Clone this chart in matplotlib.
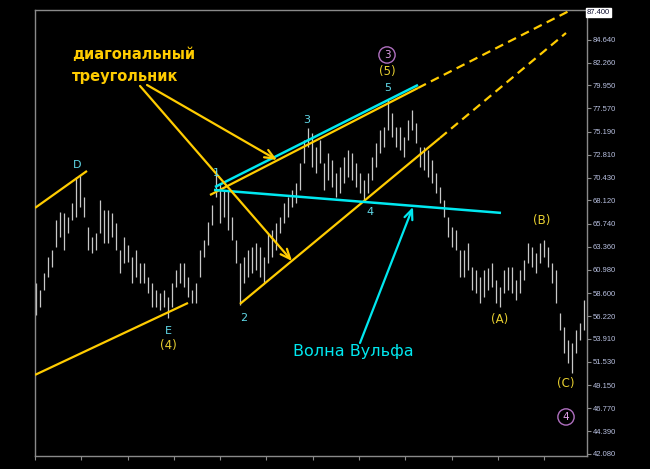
import numpy as np
import matplotlib
matplotlib.use("Agg")
import matplotlib.pyplot as plt
import matplotlib.transforms as mtransforms

# Максимумы и минимумы баров (цена), слева направо
bar_high = [59.65, 58.93, 60.67, 62.32, 63.03, 66.12, 66.94, 66.84, 66.42, 67.86,
            70.53, 70.74, 68.48, 65.40, 64.37, 64.78, 68.17, 67.14, 67.14, 66.84,
            65.81, 63.03, 64.37, 63.55, 62.32, 63.03, 61.70, 61.70, 60.26, 59.65,
            58.93, 58.62, 58.93, 58.21, 59.65, 60.98, 61.70, 61.70, 60.26, 58.93,
            59.65, 63.03, 64.06, 65.91, 67.66, 71.25, 69.92, 69.20, 69.20, 66.42,
            64.06, 61.70, 62.32, 63.03, 63.34, 63.75, 63.34, 62.32, 64.78, 65.09,
            65.81, 66.42, 67.86, 68.48, 69.20, 69.92, 71.97, 74.33, 75.56, 75.05,
            73.61, 74.33, 71.97, 73.00, 72.28, 70.94, 71.56, 72.59, 73.30, 73.00,
            71.97, 70.94, 70.22, 70.94, 72.59, 74.02, 75.36, 75.67, 78.44, 77.10,
            75.67, 75.67, 74.64, 76.39, 77.41, 76.08, 73.61, 73.61, 73.30, 72.28,
            70.94, 69.50, 68.17, 66.42, 65.40, 65.09, 63.03, 63.03, 63.75, 61.29,
            60.98, 60.26, 60.98, 61.19, 61.70, 59.95, 59.24, 60.98, 61.29, 61.29,
            59.95, 60.98, 62.01, 63.75, 63.34, 62.73, 63.75, 64.06, 63.34, 61.70,
            60.98, 56.56, 55.13, 53.79, 53.48, 54.82, 55.54, 57.90]
bar_low = [56.36, 57.18, 58.93, 60.26, 61.29, 63.34, 64.37, 63.03, 64.78, 66.12,
           66.42, 67.45, 66.42, 63.03, 62.73, 63.03, 64.78, 63.75, 63.75, 64.37,
           63.03, 60.67, 61.70, 61.80, 59.65, 60.26, 59.65, 59.65, 58.62, 57.18,
           57.18, 56.87, 57.18, 56.05, 57.18, 59.24, 59.65, 59.24, 58.21, 57.59,
           57.59, 60.26, 62.32, 63.55, 65.60, 68.48, 65.81, 66.42, 65.09, 64.06,
           61.70, 57.39, 59.65, 60.26, 60.67, 60.98, 60.26, 59.65, 61.70, 62.32,
           63.03, 64.78, 65.81, 66.42, 67.45, 67.86, 69.20, 71.97, 73.61, 71.56,
           70.94, 71.97, 69.20, 70.22, 69.50, 68.48, 68.89, 69.92, 70.53, 70.22,
           69.50, 68.89, 68.17, 68.89, 70.22, 71.56, 73.00, 73.61, 75.36, 74.64,
           73.61, 73.30, 72.59, 74.33, 75.36, 74.02, 71.56, 71.25, 70.53, 69.92,
           68.89, 67.86, 66.42, 64.37, 63.34, 63.03, 60.26, 60.26, 60.98, 58.93,
           58.62, 57.59, 58.21, 58.93, 59.24, 57.59, 57.18, 58.62, 58.93, 58.62,
           57.90, 58.62, 59.95, 61.70, 61.29, 60.67, 61.70, 62.32, 61.29, 59.65,
           57.59, 54.81, 52.46, 51.44, 50.40, 52.46, 53.79, 54.82]

# Шкала цен справа (подпись 87.020 закрыта меткой текущей цены)
price_ticks = [42.080, 44.390, 46.770, 49.150, 51.530, 53.910, 56.220, 58.600,
               60.980, 63.360, 65.740, 68.120, 70.430, 72.810, 75.190, 77.570,
               79.950, 82.260, 84.640, 87.020]
last_price = 87.400

# Волновая разметка: (номер бара, цена, текст)
wave_cyan = [(10.25, 71.76, "D"), (33.0, 54.72, "E"), (45.0, 70.94, "1"),
             (52.0, 56.05, "2"), (67.75, 76.39, "3"), (83.5, 66.94, "4"),
             (88.0, 79.67, "5")]
wave_yellow = [(33.0, 53.18, "(4)"), (87.75, 81.32, "(5)"), (116.0, 55.85, "(A)"),
               (126.5, 66.01, "(B)"), (132.5, 49.27, "(C)")]
wave_circled = [(87.75, 83.06, "3"), (132.5, 45.88, "4")]

YELLOW = "#ffcc00"
CYAN = "#00e8f0"
LABEL_CYAN = "#60d8e8"
LABEL_YELLOW = "#e8d030"

fig = plt.figure(figsize=(6.5, 4.69), dpi=100, facecolor="black")
ax = fig.add_axes([35 / 650, 1 - 456 / 469, 552 / 650, 446 / 469])
ax.set_facecolor("black")

x = np.arange(len(bar_high))
ax.vlines(x, bar_low, bar_high, color="#c8c8c8", linewidth=0.9, zorder=2)

ax.set_xlim(-0.25, 137.75)
ax.set_ylim(41.87, 87.68)

# рамка и шкалы
for s in ax.spines.values():
    s.set_color("#8a8a8a")
    s.set_linewidth(1.0)
ax.yaxis.tick_right()
ax.set_yticks(price_ticks)
ax.set_yticklabels(["%.3f" % v if v < 86 else "" for v in price_ticks])
ax.tick_params(axis="y", colors="#8a8a8a", length=3, width=0.8, pad=1,
               labelsize=5.5, labelcolor="#b8c0e0")
for lbl in ax.get_yticklabels():
    lbl.set_family("Liberation Sans")
ax.set_xticks(np.arange(-0.25, 138, 11.57))
ax.tick_params(axis="x", colors="#8a8a8a", length=3, width=0.8, labelbottom=False)

trans = mtransforms.blended_transform_factory(ax.transAxes, ax.transData)
ax.text(1.0, last_price, "%.3f" % last_price, transform=trans, ha="left", va="center",
        fontsize=5.5, family="Liberation Sans", color="#101030", zorder=5,
        bbox=dict(boxstyle="square,pad=0.15", fc="white", ec="white"),
        clip_on=False)


def seg(x0, p0, x1, p1, color, dashed=False, lw=1.6):
    ls = (0, (4, 2.5)) if dashed else "-"
    ax.plot([x0, x1], [p0, p1], color=color, lw=lw, ls=ls, zorder=4,
            solid_capstyle="butt")


def arrow(x0, p0, x1, p1, color):
    ax.annotate("", xy=(x1, p1), xytext=(x0, p0), zorder=4,
                arrowprops=dict(arrowstyle="->,head_length=0.7,head_width=0.3",
                                color=color, lw=1.6, shrinkA=0, shrinkB=0))


# диагональный треугольник (жёлтый)
seg(-0.25, 67.35, 12.75, 71.15, YELLOW)
seg(-0.25, 50.20, 38.0, 57.59, YELLOW)
seg(43.5, 68.68, 95.5, 79.67, YELLOW)
seg(95.5, 79.67, 134.75, 87.89, YELLOW, dashed=True)
seg(51.0, 57.49, 101.0, 74.54, YELLOW)
seg(101.0, 74.54, 132.5, 85.32, YELLOW, dashed=True)

# волна Вульфа (голубой)
seg(44.75, 69.50, 95.5, 79.98, CYAN, lw=1.8)
seg(44.5, 69.20, 116.25, 66.84, CYAN, lw=1.8)

arrow(26.0, 79.88, 64.0, 61.90, YELLOW)
arrow(27.75, 79.98, 60.25, 72.28, YELLOW)
arrow(81.0, 53.48, 94.25, 67.45, CYAN)

ax.text(9.0, 83.16, "диагональный", color=YELLOW, fontsize=10.5, fontweight="bold",
        ha="left", va="center", zorder=5)
ax.text(9.0, 80.80, "треугольник", color=YELLOW, fontsize=10.5, fontweight="bold",
        ha="left", va="center", zorder=5)
ax.text(64.25, 52.56, "Волна Вульфа", color=CYAN, fontsize=11.5,
        ha="left", va="center", zorder=5)

for bx, p, t in wave_cyan:
    ax.text(bx, p, t, color=LABEL_CYAN, fontsize=8, ha="center", va="center", zorder=5)
for bx, p, t in wave_yellow:
    ax.text(bx, p, t, color=LABEL_YELLOW, fontsize=8.5, ha="center", va="center", zorder=5)
for bx, p, t in wave_circled:
    ax.text(bx, p, t, color="#e0a0e8", fontsize=7.5, ha="center", va="center", zorder=5,
            bbox=dict(boxstyle="circle,pad=0.3", fc="black", ec="#b070c0", lw=1.0))

fig.savefig("out.png", dpi=100, facecolor="black")
